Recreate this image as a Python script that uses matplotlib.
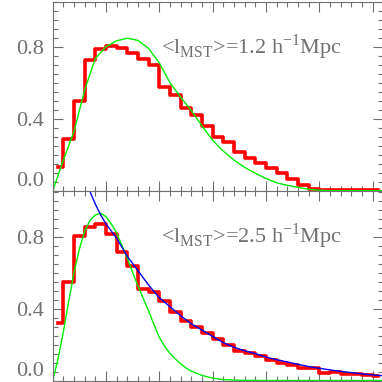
import numpy as np
import matplotlib
matplotlib.use('Agg')
import matplotlib.pyplot as plt
from matplotlib.ticker import MultipleLocator, NullFormatter

plt.rcParams['font.family'] = 'Liberation Serif'
plt.rcParams['mathtext.fontset'] = 'custom'
plt.rcParams['mathtext.rm'] = 'Liberation Serif'

# histogram bin centres (IDL psym=10 style)
bin_x = [0.1, 0.3, 0.5, 0.7, 0.9, 1.1, 1.3, 1.5, 1.7, 1.9, 2.1, 2.3, 2.5, 2.7, 2.9,
         3.1, 3.3, 3.5, 3.7, 3.9, 4.1, 4.3, 4.5, 4.7, 4.9, 5.1, 5.3, 5.5, 5.7, 5.9, 6.1]

# top panel, <l_MST> = 1.2
hist_top = [0.13, 0.29, 0.50, 0.726, 0.787, 0.805, 0.795, 0.767, 0.73, 0.697, 0.574,
            0.53, 0.458, 0.42, 0.36, 0.30, 0.272, 0.217, 0.18, 0.156, 0.124, 0.097,
            0.065, 0.032, 0.01, 0.006, 0.004, 0.004, 0.003, 0.002, 0.002]
green_top_x = [0.0, 0.1, 0.2, 0.4, 0.6, 0.8, 1.0, 1.2, 1.4, 1.6, 1.8, 2.0, 2.2, 2.4,
               2.6, 2.8, 3.0, 3.2, 3.4, 3.6, 3.8, 4.0, 4.2, 4.4, 4.6, 4.8, 5.0, 5.2, 6.2]
green_top_y = [0.0, 0.085, 0.17, 0.33, 0.56, 0.735, 0.80, 0.833, 0.847, 0.835, 0.79,
               0.71, 0.60, 0.52, 0.445, 0.36, 0.28, 0.22, 0.17, 0.13, 0.097, 0.068,
               0.044, 0.03, 0.019, 0.008, 0.003, 0.0, 0.0]

# bottom panel, <l_MST> = 2.5
hist_bot = [0.318, 0.549, 0.803, 0.853, 0.871, 0.816, 0.716, 0.634, 0.51, 0.492, 0.442,
            0.38, 0.33, 0.30, 0.264, 0.229, 0.195, 0.164, 0.151, 0.136, 0.112, 0.099,
            0.086, 0.071, 0.068, 0.043, 0.049, 0.038, 0.034, 0.031, 0.025]
green_bot_x = [0.0, 0.1, 0.2, 0.3, 0.4, 0.5, 0.6, 0.7, 0.8, 0.9, 1.0, 1.1, 1.2, 1.3,
               1.4, 1.5, 1.6, 1.7, 1.8, 1.9, 2.0, 2.1, 2.2, 2.3, 2.4, 2.5, 2.6, 2.8,
               3.0, 3.2, 3.5, 4.0, 6.2]
green_bot_y = [0.0, 0.12, 0.27, 0.44, 0.60, 0.73, 0.83, 0.89, 0.92, 0.93, 0.91, 0.87,
               0.82, 0.75, 0.68, 0.60, 0.525, 0.455, 0.386, 0.31, 0.24, 0.19, 0.15,
               0.12, 0.093, 0.07, 0.052, 0.028, 0.013, 0.005, 0.001, 0.0, 0.0]
blue_x = [0.7, 0.8, 0.9, 1.0, 1.2, 1.4, 1.6, 1.8, 2.0, 2.2, 2.4, 2.6, 2.8, 3.0, 3.2,
          3.4, 3.6, 3.8, 4.0, 4.2, 4.4, 4.6, 4.8, 5.0, 5.2, 5.4, 5.6, 5.8, 6.0, 6.2]
blue_y = [1.05, 0.98, 0.92, 0.87, 0.79, 0.69, 0.61, 0.53, 0.46, 0.41, 0.36, 0.315,
          0.28, 0.245, 0.21, 0.185, 0.165, 0.15, 0.13, 0.116, 0.103, 0.09, 0.078,
          0.068, 0.059, 0.051, 0.044, 0.037, 0.031, 0.026]

labels = [r'<l$_\mathrm{MST}$>=1.2 h$^{-1}$Mpc', r'<l$_\mathrm{MST}$>=2.5 h$^{-1}$Mpc']

gray = '#707070'
W = 382.0
fig = plt.figure(figsize=(3.82, 3.82), dpi=100)
ax1 = fig.add_axes([52.7 / W, 1 - 190.7 / W, 330.5 / W, 189.0 / W])
ax2 = fig.add_axes([52.7 / W, 1 - 380.5 / W, 330.5 / W, 189.5 / W])

ax1.step(bin_x, hist_top, where='mid', color='red', lw=2.6)
ax1.plot(green_top_x, green_top_y, color='#00ee00', lw=1.0)
ax2.step(bin_x, hist_bot, where='mid', color='red', lw=2.6)
ax2.plot(green_bot_x, green_bot_y, color='#00ee00', lw=1.0)
ax2.plot(blue_x, blue_y, color='#0000ee', lw=1.0)

for ax, lab, ytop in [(ax1, labels[0], 1.05), (ax2, labels[1], 1.053)]:
    ax.set_xlim(0, 6.2)
    ax.set_ylim(0, ytop)
    ax.xaxis.set_major_locator(MultipleLocator(1.0))
    ax.xaxis.set_minor_locator(MultipleLocator(0.2))
    ax.yaxis.set_major_locator(MultipleLocator(0.4))
    ax.yaxis.set_minor_locator(MultipleLocator(0.05))
    ax.xaxis.set_major_formatter(NullFormatter())
    ax.tick_params(which='both', direction='in', top=True, right=True, color=gray,
                   labelcolor=gray, labelsize=16, width=0.8)
    ax.tick_params(which='major', length=7, pad=6)
    ax.tick_params(which='minor', length=3.5)
    ax.set_yticks([0.0, 0.4, 0.8])
    ax.set_yticklabels(['0.0', '0.4', '0.8'])
    ax.get_yticklabels()[0].set_va('bottom')
    for s in ax.spines.values():
        s.set_color(gray)
        s.set_linewidth(0.8)
    ax.text(2.03, 0.80, lab, color=gray, fontsize=16, va='center', ha='left')

fig.savefig('out.png', dpi=100)
